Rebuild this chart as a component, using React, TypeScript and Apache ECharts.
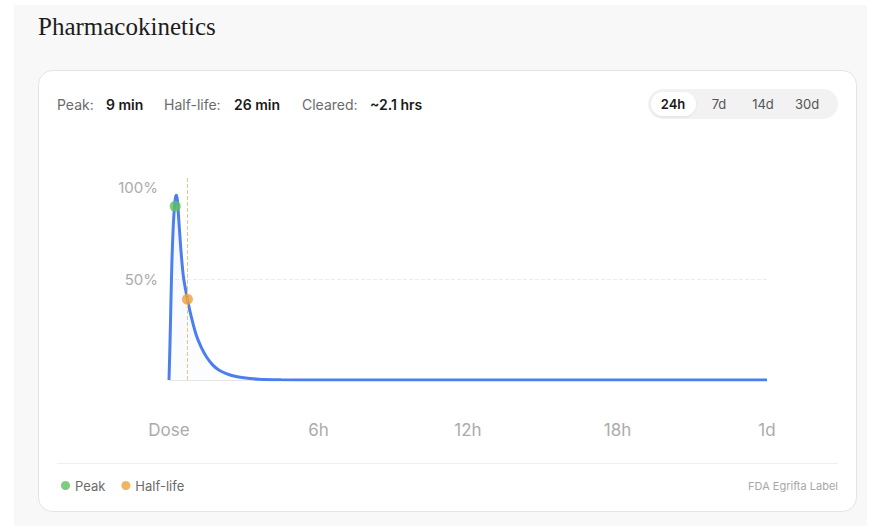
import React, { useEffect, useRef } from "react";
import * as echarts from "echarts";

// ---- data ----
const timeHours = [0, 0.04, 0.08, 0.12, 0.17, 0.22, 0.27, 0.31, 0.35, 0.4, 0.48, 0.58, 0.74, 0.9, 1.1, 1.3, 1.5, 1.75, 2.0, 2.3, 2.6, 3.0, 3.6, 4.5, 6, 12, 18, 24];
const levelPct = [0, 18, 40, 60, 76, 86, 91, 91.5, 87, 78, 64, 51, 40, 31, 22, 16, 11.5, 7.5, 5, 3.2, 2.0, 1.1, 0.4, 0.1, 0, 0, 0, 0];
const peakPoint = [0.25, 86];
const halfLifePoint = [0.74, 40];
const xTicks = [0, 6, 12, 18, 24];
const xTickLabels = ["Dose", "6h", "12h", "18h", "1d"];
const stats = [
  { label: "Peak:", value: "9 min" },
  { label: "Half-life:", value: "26 min" },
  { label: "Cleared:", value: "~2.1 hrs" },
];
const ranges = ["24h", "7d", "14d", "30d"];
const sourceNote = "FDA Egrifta Label";
const title = "Pharmacokinetics";

const SANS = "Inter, 'Noto Sans', sans-serif";
const BLUE = "#4b7fee";
const GREEN = "#5cbf63";
const ORANGE = "#eda23a";

export default function App() {
  const ref = useRef<HTMLDivElement>(null);
  useEffect(() => {
    if (!ref.current) return;
    const chart = echarts.init(ref.current, null, { renderer: "svg" });

    const statX = [[57, 106], [164, 234], [302, 370]];
    const rangeX = [673, 719, 763, 807];

    const graphic: any[] = [
      { type: "rect", z: -10, shape: { x: 14, y: 5, width: 853, height: 521 }, style: { fill: "#f8f8f8" }, silent: true },
      { type: "rect", z: -9, shape: { x: 38.5, y: 70.5, width: 818, height: 441, r: 14 }, style: { fill: "#ffffff", stroke: "#e4e4e4", lineWidth: 1 }, silent: true },
      { type: "text", left: 38, top: 14, style: { text: title, font: "400 25px 'Liberation Serif', 'DejaVu Serif', serif", fill: "#1c1c1c" } },
      { type: "rect", shape: { x: 648, y: 89, width: 190, height: 30, r: 15 }, style: { fill: "#f2f2f2" }, silent: true },
      { type: "rect", shape: { x: 651, y: 92, width: 45, height: 24, r: 12 }, style: { fill: "#ffffff", shadowBlur: 2, shadowColor: "rgba(0,0,0,0.08)", shadowOffsetY: 1 }, silent: true },
      { type: "line", shape: { x1: 57, y1: 463.5, x2: 838, y2: 463.5 }, style: { stroke: "#efefef", lineWidth: 1 }, silent: true },
      { type: "text", x: 838, y: 486, style: { text: sourceNote, fontFamily: SANS, fontSize: 11, fill: "#a8a8a8", align: "right", verticalAlign: "middle" } },
    ];
    stats.forEach((s, i) => {
      graphic.push({ type: "text", x: statX[i][0], y: 104, style: { text: s.label, fontFamily: SANS, fontSize: 14, fill: "#6b6b6b", verticalAlign: "middle" } });
      graphic.push({ type: "text", x: statX[i][1], y: 104, style: { text: s.value, fontFamily: SANS, fontSize: 14, fontWeight: 600, fill: "#1a1a1a", verticalAlign: "middle" } });
    });
    ranges.forEach((r, i) => {
      graphic.push({
        type: "text", x: rangeX[i], y: 104,
        style: { text: r, fontFamily: SANS, fontSize: 13, fontWeight: i === 0 ? 600 : 400, fill: i === 0 ? "#1a1a1a" : "#555555", align: "center", verticalAlign: "middle" },
      });
    });

    chart.setOption({
      animation: false,
      graphic,
      grid: { left: 169, right: 105, top: 178, bottom: 150 },
      legend: {
        left: 56, top: 474, icon: "circle", itemWidth: 9, itemHeight: 9, itemGap: 16,
        data: ["Peak", "Half-life"],
        textStyle: { color: "#6b6b6b", fontSize: 13, fontFamily: SANS },
      },
      xAxis: {
        type: "value", min: 0, max: 24, interval: 6,
        axisLine: { show: true, lineStyle: { color: "#e6e6e6", width: 1 } },
        axisTick: { show: false },
        splitLine: { show: false },
        axisLabel: {
          margin: 41, color: "#ababab", fontSize: 17, fontFamily: SANS,
          formatter: (v: number) => xTickLabels[xTicks.indexOf(v)] ?? "",
        },
      },
      yAxis: {
        type: "value", min: 0, max: 100, interval: 50,
        axisLine: { show: false },
        axisTick: { show: false },
        splitLine: { show: true, lineStyle: { type: "dashed", color: ["rgba(0,0,0,0)", "#ececec", "rgba(0,0,0,0)"] } },
        axisLabel: {
          margin: 11, color: "#ababab", fontSize: 15, fontFamily: SANS,
          formatter: (v: number) => (v === 100 ? "{top|100%}" : v === 50 ? "50%" : ""),
          rich: { top: { padding: [18, 0, 0, 0], color: "#ababab", fontSize: 15, fontFamily: SANS } },
        },
      },
      series: [
        {
          name: "Level",
          type: "line",
          data: timeHours.map((t, i) => [t, levelPct[i]]),
          smooth: 0.25,
          showSymbol: false,
          lineStyle: { color: BLUE, width: 3 },
          itemStyle: { color: BLUE },
          areaStyle: {
            color: new echarts.graphic.LinearGradient(0, 0, 0, 1, [
              { offset: 0, color: "rgba(75,127,238,0.10)" },
              { offset: 1, color: "rgba(75,127,238,0.02)" },
            ]),
          },
          markLine: {
            silent: true, symbol: ["none", "none"], label: { show: false },
            lineStyle: { type: "dashed", color: "#efc489", width: 1 },
            data: [{ xAxis: halfLifePoint[0] }],
          },
          z: 2,
        },
        { name: "Peak", type: "scatter", data: [peakPoint], symbolSize: 11, itemStyle: { color: GREEN }, z: 5 },
        { name: "Half-life", type: "scatter", data: [halfLifePoint], symbolSize: 11, itemStyle: { color: ORANGE }, z: 5 },
      ],
    });
    return () => chart.dispose();
  }, []);
  return <div ref={ref} style={{ position: "fixed", left: 0, top: 0, width: 872, height: 530, background: "#ffffff" }} />;
}
